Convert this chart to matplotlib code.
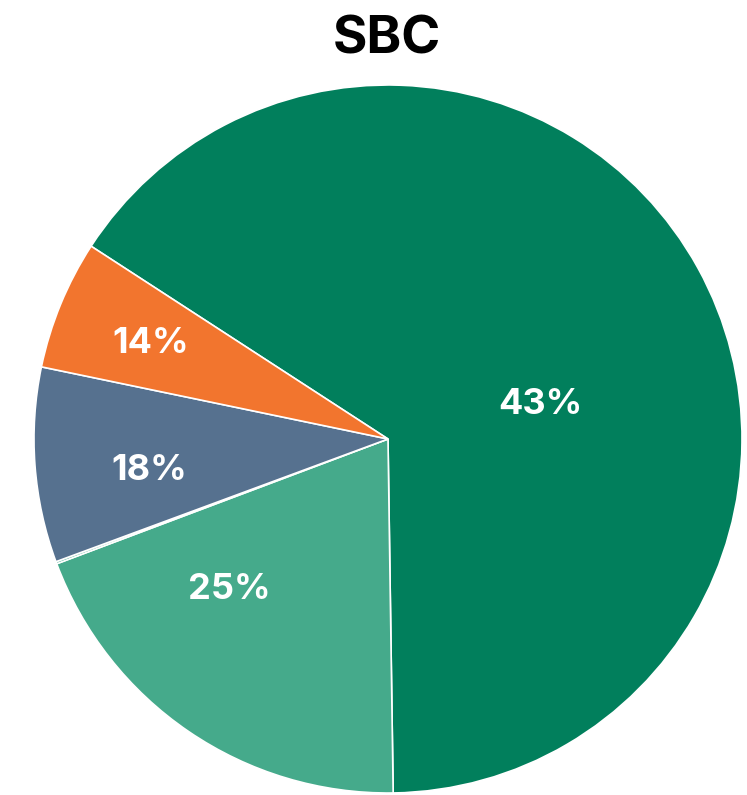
import matplotlib.pyplot as plt

# slice data (angles), shown labels as printed on the chart
names = ['A', 'B', 'gap', 'C', 'D']
shares = [65.6, 19.5, 0.1, 8.9, 5.9]
labels = ['43%', '25%', '', '18%', '14%']
colors = ['#017f5c', '#45aa8b', '#45aa8b', '#56718f', '#f2752e']
# label anchor points in pie units
label_x = [0.431, -0.449, 0.0, -0.673, -0.671]
label_y = [0.097, -0.425, 0.0, -0.090, 0.269]

plt.rcParams['font.family'] = ['Inter', 'DejaVu Sans']

fig = plt.figure(figsize=(7.47, 7.95), dpi=100)
ax = fig.add_axes([0.0455, 0.0025, 0.9478, 0.8906])

ax.pie(shares, colors=colors, startangle=147, counterclock=False,
       radius=1, wedgeprops=dict(edgecolor='white', linewidth=1.2))
ax.set_xlim(-1, 1)
ax.set_ylim(-1, 1)
ax.set_aspect('equal')
ax.axis('off')

for lab, x, y in zip(labels, label_x, label_y):
    if lab:
        ax.text(x, y, lab, color='white', fontsize=26, fontweight='bold',
                ha='center', va='center')

fig.text(0.518, 0.950, 'SBC', fontsize=38, fontweight='bold',
         ha='center', va='center')

fig.savefig('out.png', dpi=100)
